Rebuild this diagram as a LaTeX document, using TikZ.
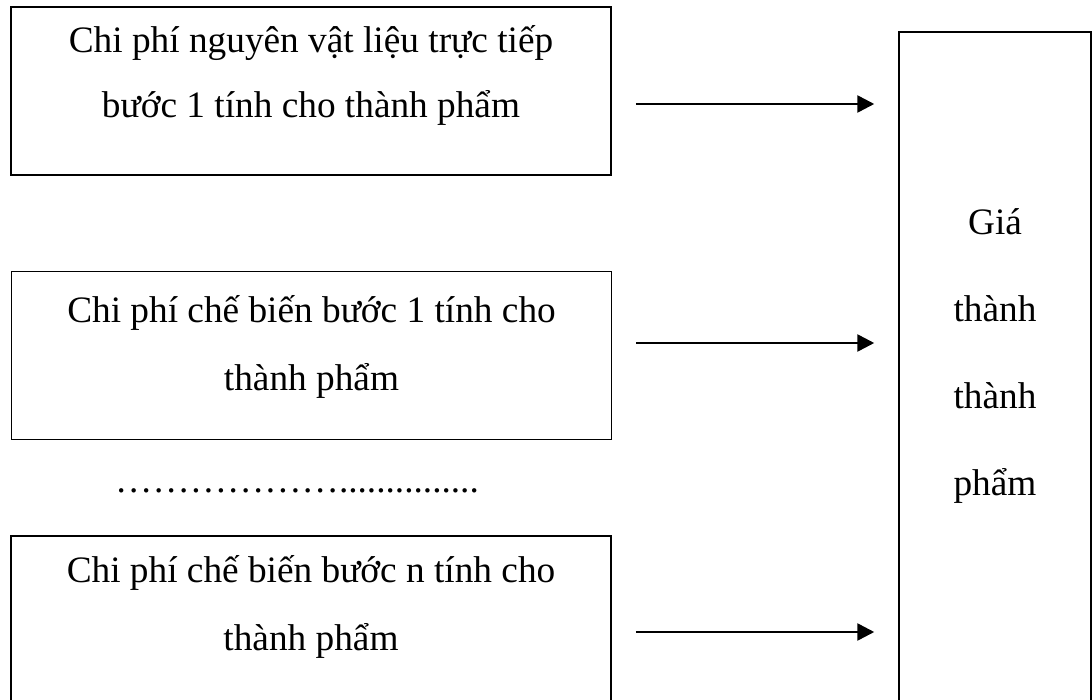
\documentclass[tikz,border=0pt]{standalone}
\usepackage{fontspec}
\setmainfont{Liberation Serif}
\usetikzlibrary{arrows.meta}
\newcommand{\ellip}{…}
\begin{document}
\begin{tikzpicture}[x=1pt,y=1pt,
  costbox/.style={draw, line width=1.5pt, minimum width=600pt, minimum height=168pt, inner sep=0pt},
  totalbox/.style={draw, line width=1.5pt, minimum width=192pt, minimum height=678pt, inner sep=0pt},
  lbl/.style={align=center, anchor=base, inner sep=0pt},
  arr/.style={line width=2.6pt, -{Triangle[length=17pt,width=17pt]}, shorten <=24pt, shorten >=24pt}]
\useasboundingbox (0,0) rectangle (1092,-700);
\clip (0,0) rectangle (1092,-700);

% cost components on the left
\node[costbox] (b1) at (311,-91) {};
\node[costbox] (b2) at (311.5,-355.5) {};
\node[costbox] (b3) at (311,-620) {};

% finished-product cost on the right
\node[totalbox] (tot) at (995,-371) {};

% box texts (anchored at the baseline of the last line)
\node[lbl, font=\fontsize{37.3}{65}\selectfont] (t1) at (311,-118)
  {Chi phí nguyên vật liệu trực tiếp\\bước 1 tính cho thành phẩm};
\node[lbl, font=\fontsize{37.3}{67}\selectfont] (t2) at (311.5,-390)
  {Chi phí chế biến bước 1 tính cho\\thành phẩm};
\node[lbl, font=\fontsize{37.3}{68}\selectfont] (t3) at (311,-650)
  {Chi phí chế biến bước n tính cho\\thành phẩm};
\node[lbl, font=\fontsize{37.3}{87}\selectfont] (tt) at (995,-495)
  {Giá\\thành\\thành\\phẩm};

% omitted intermediate steps: six ellipses, then fifteen full stops
\node[inner sep=0pt, anchor=base west, font=\fontsize{37.3}{40}\selectfont] (gap) at (115,-492)
  {\ellip\ellip\ellip\ellip\ellip\ellip.....\kern0pt.....\kern0pt.....};

% connectors
\coordinate (y1) at (0,-104);
\coordinate (y2) at (0,-343);
\coordinate (y3) at (0,-632);
\draw[arr] (b1.east |- y1) -- (tot.west |- y1);
\draw[arr] (b2.east |- y2) -- (tot.west |- y2);
\draw[arr] (b3.east |- y3) -- (tot.west |- y3);
\end{tikzpicture}
\end{document}
